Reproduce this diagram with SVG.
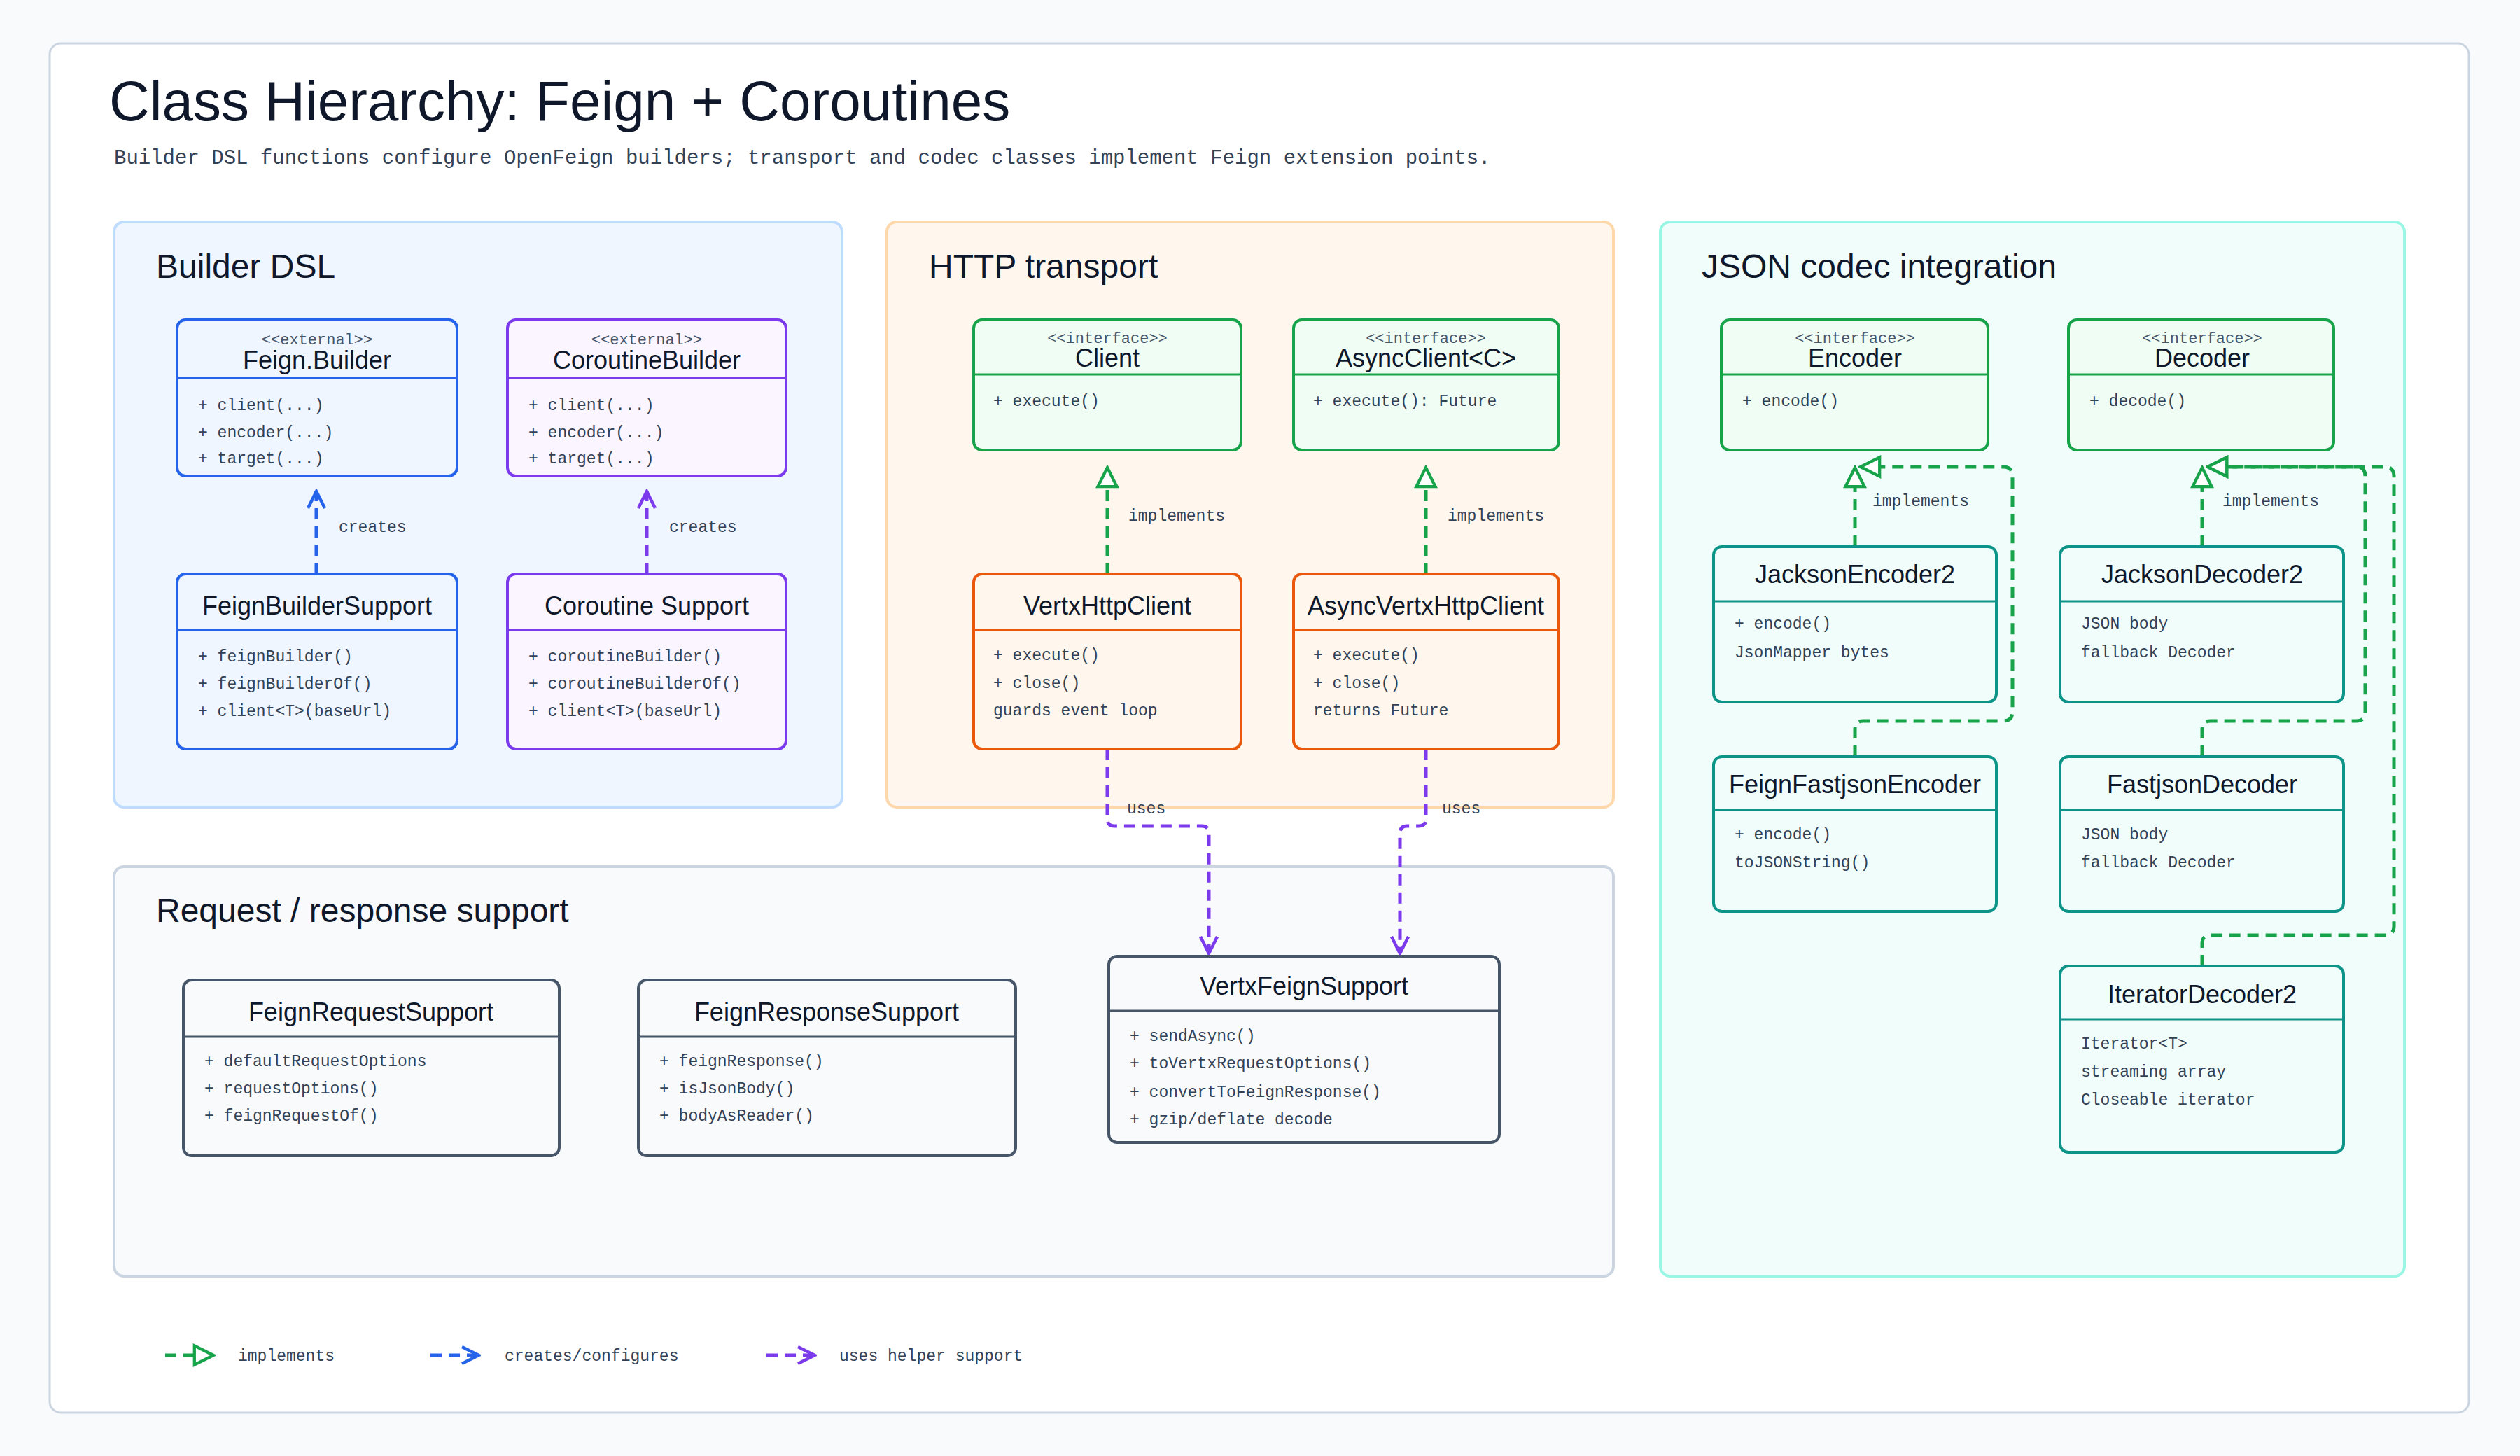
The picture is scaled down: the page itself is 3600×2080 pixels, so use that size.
<svg xmlns="http://www.w3.org/2000/svg" width="3600" height="2080" viewBox="0 0 3600 2080">
<style>
.title{font-family:"Liberation Sans",Arial,sans-serif;font-size:80px;fill:#0f172a}
.sub{font-family:"Liberation Mono",monospace;font-size:29px;fill:#334155}
.gt{font-family:"Liberation Sans",Arial,sans-serif;font-size:48px;fill:#0f172a}
.nm{font-family:"Liberation Sans",Arial,sans-serif;font-size:36px;fill:#0f172a;text-anchor:middle}
.st{font-family:"Liberation Mono",monospace;font-size:22px;fill:#475569;text-anchor:middle}
.mb{font-family:"Liberation Mono",monospace;font-size:23px;fill:#334155}
.lb{font-family:"Liberation Mono",monospace;font-size:23px;fill:#334155}
.blue rect{fill:#eff6ff;stroke:#2563eb}
.purple rect{fill:#faf5ff;stroke:#7c3aed}
.green rect{fill:#f0fdf4;stroke:#16a34a}
.orange rect{fill:#fff7ed;stroke:#ea580c}
.teal rect{fill:#f0fdfa;stroke:#0d9488}
.slate rect{fill:#f8fafc;stroke:#475569}
.node rect{stroke-width:4}
.node line{stroke-width:3}
.blue line{stroke:#2563eb}.purple line{stroke:#7c3aed}.green line{stroke:#16a34a}.orange line{stroke:#ea580c}.teal line{stroke:#0d9488}.slate line{stroke:#475569}
.impl{fill:none;stroke:#16a34a;stroke-width:5;stroke-dasharray:16 10;marker-end:url(#tri)}
.cr{fill:none;stroke:#2563eb;stroke-width:5;stroke-dasharray:16 10;marker-end:url(#vb)}
.cp{fill:none;stroke:#7c3aed;stroke-width:5;stroke-dasharray:16 10;marker-end:url(#vp)}
</style>
<defs>
<marker id="tri" viewBox="0 0 20 20" refX="18" refY="10" markerWidth="34" markerHeight="34" markerUnits="userSpaceOnUse" orient="auto"><path d="M2,2 L18,10 L2,18 Z" fill="#ffffff" stroke="#16a34a" stroke-width="2.5"/></marker>
<marker id="vb" viewBox="0 0 20 20" refX="18" refY="10" markerWidth="30" markerHeight="30" markerUnits="userSpaceOnUse" orient="auto"><path d="M2,2 L18,10 L2,18" fill="none" stroke="#2563eb" stroke-width="3"/></marker>
<marker id="vp" viewBox="0 0 20 20" refX="18" refY="10" markerWidth="30" markerHeight="30" markerUnits="userSpaceOnUse" orient="auto"><path d="M2,2 L18,10 L2,18" fill="none" stroke="#7c3aed" stroke-width="3"/></marker>
</defs>
<rect width="3600" height="2080" fill="#f8fafc"/>
<rect x="71" y="62" width="3456" height="1956" rx="16" fill="#ffffff" stroke="#cbd5e1" stroke-width="3"/>
<text class="title" x="156" y="172">Class Hierarchy: Feign + Coroutines</text>
<text class="sub" x="163" y="234">Builder DSL functions configure OpenFeign builders; transport and codec classes implement Feign extension points.</text>

<g id="groups">
<rect x="163" y="317" width="1040" height="836" rx="14" fill="#eff6ff" stroke="#bfdbfe" stroke-width="4"/>
<rect x="1267" y="317" width="1038" height="836" rx="14" fill="#fff7ed" stroke="#fed7aa" stroke-width="4"/>
<rect x="2372" y="317" width="1063" height="1506" rx="14" fill="#f0fdfa" stroke="#99f6e4" stroke-width="4"/>
<rect x="163" y="1238" width="2142" height="585" rx="14" fill="#f8fafc" stroke="#cbd5e1" stroke-width="4"/>
<text class="gt" x="223" y="397">Builder DSL</text>
<text class="gt" x="1327" y="397">HTTP transport</text>
<text class="gt" x="2431" y="397">JSON codec integration</text>
<text class="gt" x="223" y="1317">Request / response support</text>
</g>

<g id="connectors">
<path class="cr" d="M452,820 V702"/>
<path class="cp" d="M924,820 V702"/>
<path class="impl" d="M1582,820 V668"/>
<path class="impl" d="M2037,820 V668"/>
<path class="cp" d="M1582,1070 V1170 Q1582,1180 1592,1180 H1717 Q1727,1180 1727,1190 V1362"/>
<path class="cp" d="M2037,1070 V1170 Q2037,1180 2027,1180 H2010 Q2000,1180 2000,1190 V1362"/>
<path class="impl" d="M2650,781 V668"/>
<path class="impl" d="M2650,1081 V1042 Q2650,1030 2662,1030 H2862 Q2875,1030 2875,1017 V680 Q2875,667 2862,667 H2658"/>
<path class="impl" d="M3146,781 V668"/>
<path class="impl" d="M3146,1081 V1042 Q3146,1030 3158,1030 H3366 Q3379,1030 3379,1017 V680 Q3379,667 3366,667 H3154"/>
<path class="impl" d="M3146,1380 V1348 Q3146,1336 3158,1336 H3407 Q3420,1336 3420,1323 V680 Q3420,667 3407,667 H3154"/>
<text class="lb" x="484" y="760">creates</text>
<text class="lb" x="956" y="760">creates</text>
<text class="lb" x="1612" y="744">implements</text>
<text class="lb" x="2068" y="744">implements</text>
<text class="lb" x="1610" y="1162">uses</text>
<text class="lb" x="2060" y="1162">uses</text>
<text class="lb" x="2675" y="723">implements</text>
<text class="lb" x="3175" y="723">implements</text>
</g>

<g id="FeignBuilder" class="node blue"><rect x="253" y="457" width="400" height="223" rx="12"/><line x1="253" y1="540" x2="653" y2="540"/><text class="st" x="453" y="492">&lt;&lt;external&gt;&gt;</text><text class="nm" x="453" y="527">Feign.Builder</text><text class="mb" x="283" y="586">+ client(...)</text><text class="mb" x="283" y="625">+ encoder(...)</text><text class="mb" x="283" y="662">+ target(...)</text></g>
<g id="CoroutineBuilder" class="node purple"><rect x="725" y="457" width="398" height="223" rx="12"/><line x1="725" y1="540" x2="1123" y2="540"/><text class="st" x="924" y="492">&lt;&lt;external&gt;&gt;</text><text class="nm" x="924" y="527">CoroutineBuilder</text><text class="mb" x="755" y="586">+ client(...)</text><text class="mb" x="755" y="625">+ encoder(...)</text><text class="mb" x="755" y="662">+ target(...)</text></g>
<g id="FeignBuilderSupport" class="node blue"><rect x="253" y="820" width="400" height="250" rx="12"/><line x1="253" y1="900" x2="653" y2="900"/><text class="nm" x="453" y="878">FeignBuilderSupport</text><text class="mb" x="283" y="945">+ feignBuilder()</text><text class="mb" x="283" y="984">+ feignBuilderOf()</text><text class="mb" x="283" y="1023">+ client&lt;T&gt;(baseUrl)</text></g>
<g id="CoroutineSupport" class="node purple"><rect x="725" y="820" width="398" height="250" rx="12"/><line x1="725" y1="900" x2="1123" y2="900"/><text class="nm" x="924" y="878">Coroutine Support</text><text class="mb" x="755" y="945">+ coroutineBuilder()</text><text class="mb" x="755" y="984">+ coroutineBuilderOf()</text><text class="mb" x="755" y="1023">+ client&lt;T&gt;(baseUrl)</text></g>

<g id="Client" class="node green"><rect x="1391" y="457" width="382" height="186" rx="12"/><line x1="1391" y1="535" x2="1773" y2="535"/><text class="st" x="1582" y="490">&lt;&lt;interface&gt;&gt;</text><text class="nm" x="1582" y="524">Client</text><text class="mb" x="1419" y="580">+ execute()</text></g>
<g id="AsyncClient" class="node green"><rect x="1848" y="457" width="379" height="186" rx="12"/><line x1="1848" y1="535" x2="2227" y2="535"/><text class="st" x="2037" y="490">&lt;&lt;interface&gt;&gt;</text><text class="nm" x="2037" y="524">AsyncClient&lt;C&gt;</text><text class="mb" x="1876" y="580">+ execute(): Future</text></g>
<g id="VertxHttpClient" class="node orange"><rect x="1391" y="820" width="382" height="250" rx="12"/><line x1="1391" y1="900" x2="1773" y2="900"/><text class="nm" x="1582" y="878">VertxHttpClient</text><text class="mb" x="1419" y="943">+ execute()</text><text class="mb" x="1419" y="983">+ close()</text><text class="mb" x="1419" y="1022">guards event loop</text></g>
<g id="AsyncVertxHttpClient" class="node orange"><rect x="1848" y="820" width="379" height="250" rx="12"/><line x1="1848" y1="900" x2="2227" y2="900"/><text class="nm" x="2037" y="878">AsyncVertxHttpClient</text><text class="mb" x="1876" y="943">+ execute()</text><text class="mb" x="1876" y="983">+ close()</text><text class="mb" x="1876" y="1022">returns Future</text></g>

<g id="Encoder" class="node green"><rect x="2459" y="457" width="381" height="186" rx="12"/><line x1="2459" y1="535" x2="2840" y2="535"/><text class="st" x="2650" y="490">&lt;&lt;interface&gt;&gt;</text><text class="nm" x="2650" y="524">Encoder</text><text class="mb" x="2489" y="580">+ encode()</text></g>
<g id="Decoder" class="node green"><rect x="2955" y="457" width="379" height="186" rx="12"/><line x1="2955" y1="535" x2="3334" y2="535"/><text class="st" x="3146" y="490">&lt;&lt;interface&gt;&gt;</text><text class="nm" x="3146" y="524">Decoder</text><text class="mb" x="2985" y="580">+ decode()</text></g>
<g id="JacksonEncoder2" class="node teal"><rect x="2448" y="781" width="404" height="222" rx="12"/><line x1="2448" y1="859" x2="2852" y2="859"/><text class="nm" x="2650" y="833">JacksonEncoder2</text><text class="mb" x="2478" y="898">+ encode()</text><text class="mb" x="2478" y="939">JsonMapper bytes</text></g>
<g id="JacksonDecoder2" class="node teal"><rect x="2943" y="781" width="405" height="222" rx="12"/><line x1="2943" y1="859" x2="3348" y2="859"/><text class="nm" x="3146" y="833">JacksonDecoder2</text><text class="mb" x="2973" y="898">JSON body</text><text class="mb" x="2973" y="939">fallback Decoder</text></g>
<g id="FeignFastjsonEncoder" class="node teal"><rect x="2448" y="1081" width="404" height="221" rx="12"/><line x1="2448" y1="1157" x2="2852" y2="1157"/><text class="nm" x="2650" y="1133">FeignFastjsonEncoder</text><text class="mb" x="2478" y="1199">+ encode()</text><text class="mb" x="2478" y="1239">toJSONString()</text></g>
<g id="FastjsonDecoder" class="node teal"><rect x="2943" y="1081" width="405" height="221" rx="12"/><line x1="2943" y1="1157" x2="3348" y2="1157"/><text class="nm" x="3146" y="1133">FastjsonDecoder</text><text class="mb" x="2973" y="1199">JSON body</text><text class="mb" x="2973" y="1239">fallback Decoder</text></g>
<g id="IteratorDecoder2" class="node teal"><rect x="2943" y="1380" width="405" height="266" rx="12"/><line x1="2943" y1="1456" x2="3348" y2="1456"/><text class="nm" x="3146" y="1433">IteratorDecoder2</text><text class="mb" x="2973" y="1498">Iterator&lt;T&gt;</text><text class="mb" x="2973" y="1538">streaming array</text><text class="mb" x="2973" y="1578">Closeable iterator</text></g>

<g id="FeignRequestSupport" class="node slate"><rect x="262" y="1400" width="537" height="251" rx="12"/><line x1="262" y1="1481" x2="799" y2="1481"/><text class="nm" x="530" y="1458">FeignRequestSupport</text><text class="mb" x="292" y="1523">+ defaultRequestOptions</text><text class="mb" x="292" y="1562">+ requestOptions()</text><text class="mb" x="292" y="1601">+ feignRequestOf()</text></g>
<g id="FeignResponseSupport" class="node slate"><rect x="912" y="1400" width="539" height="251" rx="12"/><line x1="912" y1="1481" x2="1451" y2="1481"/><text class="nm" x="1181" y="1458">FeignResponseSupport</text><text class="mb" x="942" y="1523">+ feignResponse()</text><text class="mb" x="942" y="1562">+ isJsonBody()</text><text class="mb" x="942" y="1601">+ bodyAsReader()</text></g>
<g id="VertxFeignSupport" class="node slate"><rect x="1584" y="1366" width="558" height="266" rx="12"/><line x1="1584" y1="1444" x2="2142" y2="1444"/><text class="nm" x="1863" y="1421">VertxFeignSupport</text><text class="mb" x="1614" y="1487">+ sendAsync()</text><text class="mb" x="1614" y="1526">+ toVertxRequestOptions()</text><text class="mb" x="1614" y="1567">+ convertToFeignResponse()</text><text class="mb" x="1614" y="1606">+ gzip/deflate decode</text></g>

<g id="legend">
<path class="impl" d="M236,1936 H305"/>
<text class="lb" x="340" y="1944">implements</text>
<path class="cr" d="M615,1936 H684"/>
<text class="lb" x="721" y="1944">creates/configures</text>
<path class="cp" d="M1095,1936 H1164"/>
<text class="lb" x="1199" y="1944">uses helper support</text>
</g>
</svg>
